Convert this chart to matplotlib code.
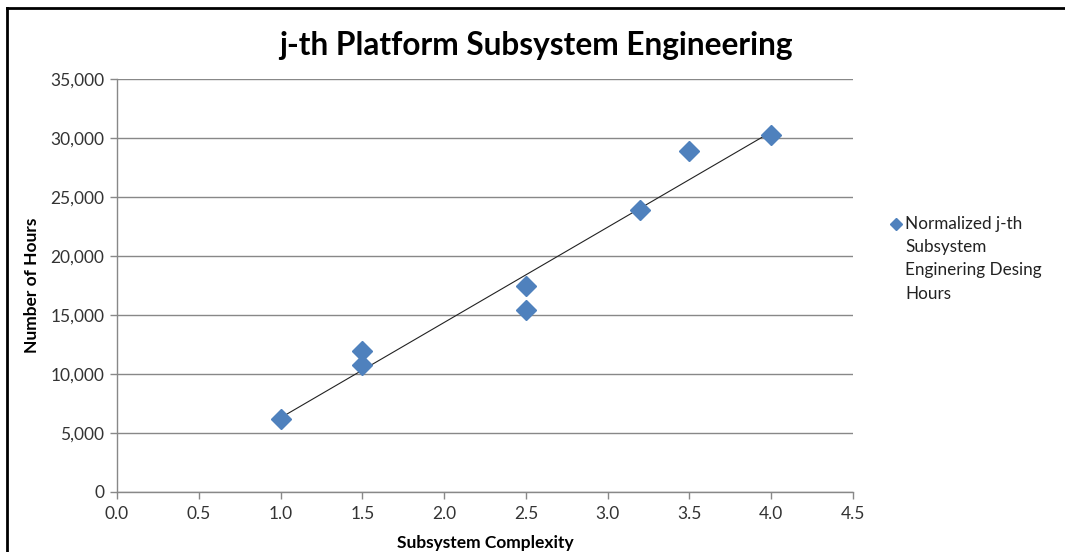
import numpy as np
import matplotlib
matplotlib.use("Agg")
import matplotlib.pyplot as plt
from matplotlib.ticker import FuncFormatter

# Data
complexity = [1.0, 1.5, 1.5, 2.5, 2.5, 3.2, 3.5, 4.0]
hours = [6200, 10750, 11950, 15400, 17450, 23900, 28900, 30250]
series_label = ["Normalized j-th", "Subsystem", "Enginering Desing", "Hours"]
title = "j-th Platform Subsystem Engineering"
xlabel = "Subsystem Complexity"
ylabel = "Number of Hours"
xticks = [0.0, 0.5, 1.0, 1.5, 2.0, 2.5, 3.0, 3.5, 4.0, 4.5]
yticks = [0, 5000, 10000, 15000, 20000, 25000, 30000, 35000]

plt.rcParams['font.family'] = ['Lato', 'DejaVu Sans']

W, H = 1065, 552
fig = plt.figure(figsize=(W / 100, H / 100), dpi=100)
fig.patch.set_facecolor('white')

# plot area in pixels: x 117..853, y 79..492
left, right, top, bottom = 117, 853, 79, 492
ax = fig.add_axes([left / W, 1 - bottom / H, (right - left) / W, (bottom - top) / H])

grid_c = '#888888'
ax.set_xlim(0, 4.5)
ax.set_ylim(0, 35000)
ax.set_xticks(xticks)
ax.set_yticks(yticks)
ax.xaxis.set_major_formatter(FuncFormatter(lambda v, p: f"{v:.1f}"))
ax.yaxis.set_major_formatter(FuncFormatter(lambda v, p: f"{int(v):,}"))
ax.grid(axis='y', color=grid_c, linewidth=1)
ax.set_axisbelow(True)
for s in ['top', 'right']:
    ax.spines[s].set_visible(False)
for s in ['left', 'bottom']:
    ax.spines[s].set_color(grid_c)
    ax.spines[s].set_linewidth(1)
ax.tick_params(axis='both', direction='out', length=5, color=grid_c,
               labelsize=12.5, labelcolor='#333333', width=1)
ax.tick_params(axis='x', pad=5)
ax.tick_params(axis='y', pad=4)

# trendline
coef = np.polyfit(complexity, hours, 1)
xs = np.array([min(complexity), max(complexity)])
ax.plot(xs, np.polyval(coef, xs), color='#222222', linewidth=0.8, zorder=2)

marker_c = '#4F81BD'
ax.plot(complexity, hours, linestyle='none', marker='D', markersize=10,
        color=marker_c, markeredgecolor=marker_c, zorder=3, clip_on=False)

fig.text(536 / W, 1 - 45 / H, title, ha='center', va='center',
         fontsize=22.8, fontweight='bold', color='black')
fig.text(485 / W, 1 - 543 / H, xlabel, ha='center', va='center',
         fontsize=12.5, fontweight='bold', color='black')
fig.text(32 / W, 1 - 285 / H, ylabel, ha='center', va='center', rotation=90,
         fontsize=12.5, fontweight='bold', color='black')

# legend (manual)
leg_ax = fig.add_axes([0, 0, 1, 1], facecolor='none')
leg_ax.set_xlim(0, W)
leg_ax.set_ylim(H, 0)
leg_ax.axis('off')
leg_ax.plot([896], [224], marker='D', markersize=6.5, color=marker_c,
            linestyle='none')
for i, line in enumerate(series_label):
    leg_ax.text(905, 224 + i * 23.2, line, ha='left', va='center',
                fontsize=12.3, color='#222222')

# outer border
leg_ax.plot([6.5, 6.5], [7.5, H], color='black', linewidth=2, solid_capstyle='projecting')
leg_ax.plot([6.5, W], [7.5, 7.5], color='black', linewidth=2, solid_capstyle='projecting')

fig.savefig('out.png', dpi=100, facecolor='white')
